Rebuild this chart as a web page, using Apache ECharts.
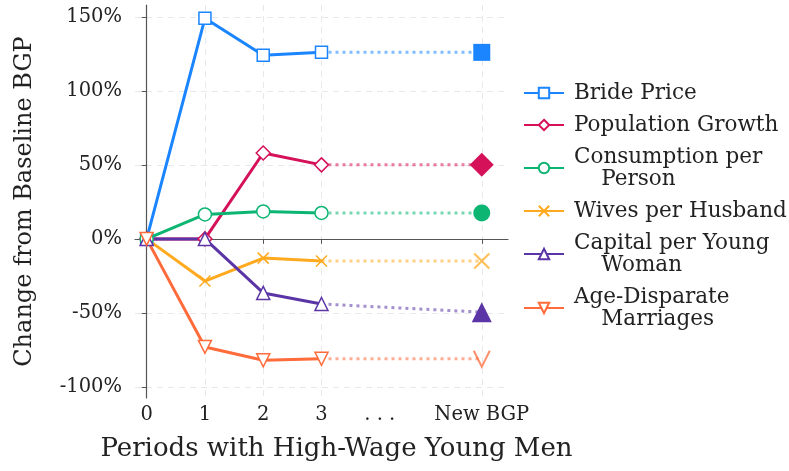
<!DOCTYPE html>
<html>
<head>
<meta charset="utf-8">
<script src="https://cdn.jsdelivr.net/npm/echarts@6/dist/echarts.min.js"></script>
<style>html,body{margin:0;padding:0;background:#fff;}#chart{width:789px;height:471px;}</style>
</head>
<body>
<div id="chart"></div>
<script>
// ---- data ----
const periods = [0, 1, 2, 3];
const newBgpPos = 5.75;
const xTickValues = [0, 1, 2, 3, 4, 5.75];
const xTickLabels = ['0', '1', '2', '3', '. . .', 'New BGP'];
const yTickValues = [-100, -50, 0, 50, 100, 150];

const seriesNames = ['Bride Price', 'Population Growth', 'Consumption per\n    Person', 'Wives per Husband', 'Capital per Young\n    Woman', 'Age-Disparate\n    Marriages'];
const bridePrice = [0, 149, 124, 126];
const populationGrowth = [0, 0, 58, 50];
const consumptionPerPerson = [0, 16.5, 18.5, 17.5];
const wivesPerHusband = [0, -28.5, -13, -15];
const capitalPerYoungWoman = [0, 0, -36.5, -44];
const ageDisparateMarriages = [0, -73, -82, -81];
const newBgpValues = [126, 50, 17.5, -15, -49.5, -81];

// ---- styles ----
const colors = ['#1A85FF', '#D41159', '#0DB573', '#FFA91E', '#5B35A6', '#FF6B3A'];
const hollowSymbols = ['rect', 'diamond', 'circle', 'path://M0,0L10,10M10,0L0,10', 'triangle', 'path://M0,0L10,0L5,10Z'];
const hollowSizes = [12, 14, 13, 11, 13, 13];
const newSymbols = ['rect', 'diamond', 'circle', 'path://M0,0L10,10M10,0L0,10', 'triangle', 'path://M0,0L5,10L10,0'];
const newSizes = [17, 24, 17, 15, 20, 16];
const newFilled = [true, true, true, false, true, false];
const allValues = [bridePrice, populationGrowth, consumptionPerPerson, wivesPerHusband, capitalPerYoungWoman, ageDisparateMarriages];

const FONT = 'DejaVu Serif';
const series = [];
allValues.forEach((vals, i) => {
  const c = colors[i];
  // dotted extension to new BGP
  series.push({
    name: 'ext' + i,
    type: 'line',
    z: 2,
    data: [
      { value: [periods[periods.length - 1], vals[vals.length - 1]], symbol: 'none' },
      { value: [newBgpPos, newBgpValues[i]], symbol: newSymbols[i], symbolSize: newSizes[i] }
    ],
    lineStyle: { color: c, width: 3, type: [3, 4], opacity: 0.55 },
    itemStyle: newFilled[i] ? { color: c, borderColor: c, borderWidth: 0 } : { color: 'rgba(0,0,0,0)', borderColor: c, borderWidth: 2, opacity: 0.75 },
    emphasis: { disabled: true },
    silent: true,
    animation: false
  });
  series.push({
    name: seriesNames[i],
    type: 'line',
    z: 3,
    data: periods.map((p, k) => [p, vals[k]]),
    symbol: hollowSymbols[i],
    symbolSize: hollowSizes[i],
    showAllSymbol: true,
    lineStyle: { color: c, width: 3 },
    itemStyle: { color: i === 3 ? 'rgba(0,0,0,0)' : '#fff', borderColor: c, borderWidth: 1.5 },
    emphasis: { disabled: true },
    animation: false
  });
});

const chart = echarts.init(document.getElementById('chart'), null, { renderer: 'canvas' });
chart.setOption({
  animation: false,
  backgroundColor: '#fff',
  grid: { left: 135, right: 281, top: 5, bottom: 73, containLabel: false },
  xAxis: {
    type: 'value',
    min: -0.2,
    max: 6.2,
    name: 'Periods with High-Wage Young Men',
    nameLocation: 'middle',
    nameGap: 38,
    nameTextStyle: { fontFamily: FONT, fontSize: 26, color: '#222', padding: [0, 0, 0, 30] },
    axisLine: { show: true, lineStyle: { color: '#555', width: 1.2 } },
    axisTick: { show: true, length: 5, lineStyle: { color: '#555' }, customValues: [0, 1, 2, 3, 5.75] },
    axisLabel: {
      fontFamily: FONT, fontSize: 19.5, color: '#222', margin: 7,
      customValues: xTickValues,
      formatter: v => { const k = xTickValues.indexOf(v); return k >= 0 ? xTickLabels[k] : ''; }
    },
    splitLine: { show: true, lineStyle: { color: '#e8e8e8', type: [6, 5], width: 1 } }
  },
  yAxis: {
    type: 'value',
    min: -107.5,
    max: 158,
    name: 'Change from Baseline BGP',
    nameLocation: 'middle',
    nameGap: 98,
    nameTextStyle: { fontFamily: FONT, fontSize: 24, color: '#222' },
    axisLine: { show: true, lineStyle: { color: '#555', width: 1.2 } },
    axisTick: { show: true, length: 5, lineStyle: { color: '#555' }, customValues: yTickValues },
    axisLabel: {
      fontFamily: FONT, fontSize: 19.5, color: '#222', margin: 13,
      customValues: yTickValues,
      formatter: v => v + '%'
    },
    splitLine: { show: true, lineStyle: { color: '#e8e8e8', type: [6, 5], width: 1 } }
  },
  legend: {
    data: seriesNames,
    orient: 'vertical',
    left: 518,
    top: 77,
    itemWidth: 40,
    itemHeight: 13,
    itemGap: 10,
    selectedMode: false,
    textStyle: { fontFamily: FONT, fontSize: 21.5, color: '#222', lineHeight: 22, padding: [0, 0, 0, 5] }
  },
  series: series
});
</script>
</body>
</html>
